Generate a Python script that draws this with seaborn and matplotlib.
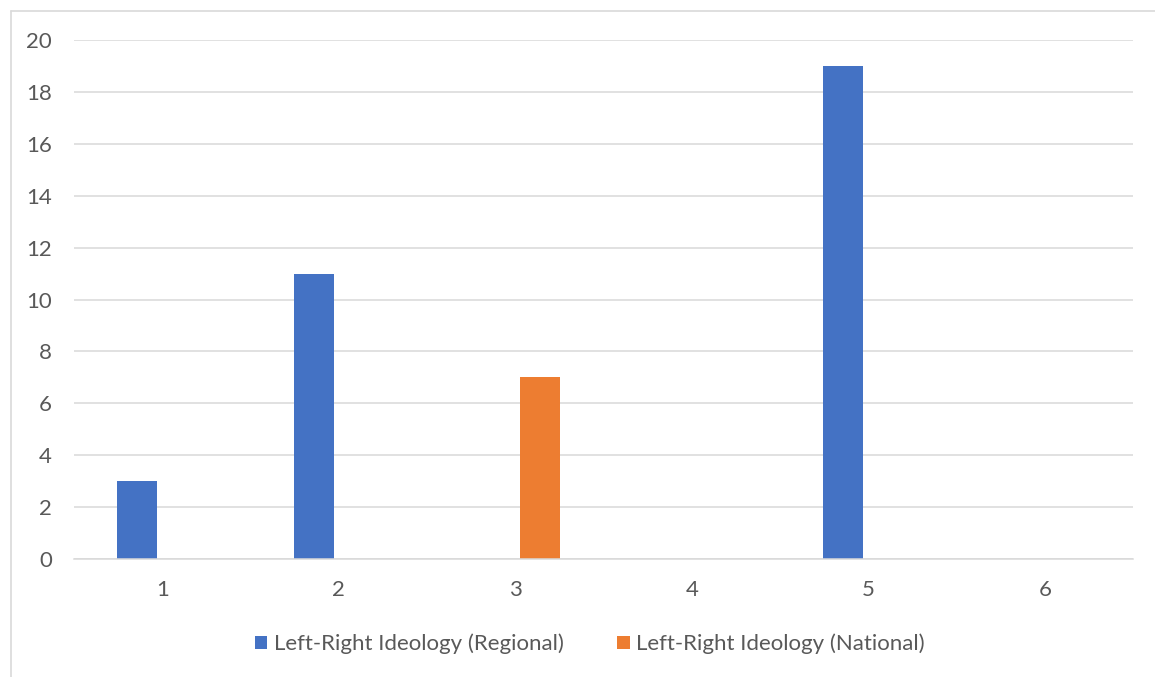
import matplotlib
matplotlib.use("Agg")
import matplotlib.pyplot as plt
from matplotlib.lines import Line2D
import pandas as pd
import seaborn as sns

# Chart data
categories = ["1", "2", "3", "4", "5", "6"]
regional = [3, 11, 0, 0, 19, 0]
national = [0, 0, 7, 0, 0, 0]
series_names = ["Left-Right Ideology (Regional)", "Left-Right Ideology (National)"]
y_ticks = [0, 2, 4, 6, 8, 10, 12, 14, 16, 18, 20]

df = pd.DataFrame({
    "category": categories * 2,
    "value": regional + national,
    "series": [series_names[0]] * len(categories) + [series_names[1]] * len(categories),
})

sns.set_theme(style="white")
plt.rcParams["font.family"] = ["Lato", "DejaVu Sans"]

TEXT = "#595959"
GRID = "#D9D9D9"
W, H = 1155, 677

fig = plt.figure(figsize=(W / 100, H / 100), dpi=100)
ax = fig.add_axes([74 / W, (H - 559) / H, (1133 - 74) / W, (559 - 40) / H])

sns.barplot(
    data=df, x="category", y="value", hue="series",
    order=categories, hue_order=series_names,
    palette=["#4472C4", "#ED7D31"], saturation=1,
    width=0.567, gap=0.2, linewidth=0, errorbar=None, ax=ax,
)

ax.set_ylim(0, 20)
ax.set_yticks(y_ticks)
ax.set_xlim(-0.5, len(categories) - 0.5)
ax.yaxis.grid(True, color=GRID, linewidth=1.1)
ax.set_axisbelow(True)
for side in ["left", "right", "top"]:
    ax.spines[side].set_visible(False)
ax.spines["bottom"].set_color(GRID)
ax.spines["bottom"].set_linewidth(1.1)
ax.tick_params(axis="both", length=0, labelsize=16, labelcolor=TEXT)
ax.tick_params(axis="y", pad=16)
ax.tick_params(axis="x", pad=15)
ax.set_xlabel("")
ax.set_ylabel("")

handles, labels = ax.get_legend_handles_labels()
ax.get_legend().remove()
fig.legend(
    handles, labels, loc="center", bbox_to_anchor=(590 / W, (H - 644) / H),
    ncol=2, frameon=False, fontsize=16, labelcolor=TEXT,
    handlelength=0.55, handleheight=0.55, handletextpad=0.3, columnspacing=2.4,
)

# Chart-area border (left and top edges)
fig.add_artist(Line2D([10.5 / W, 10.5 / W], [0, (H - 11) / H], transform=fig.transFigure,
                      color=GRID, linewidth=1.2))
fig.add_artist(Line2D([10.5 / W, 1], [(H - 11) / H, (H - 11) / H], transform=fig.transFigure,
                      color=GRID, linewidth=1.2))

fig.savefig("out.png", dpi=100)
